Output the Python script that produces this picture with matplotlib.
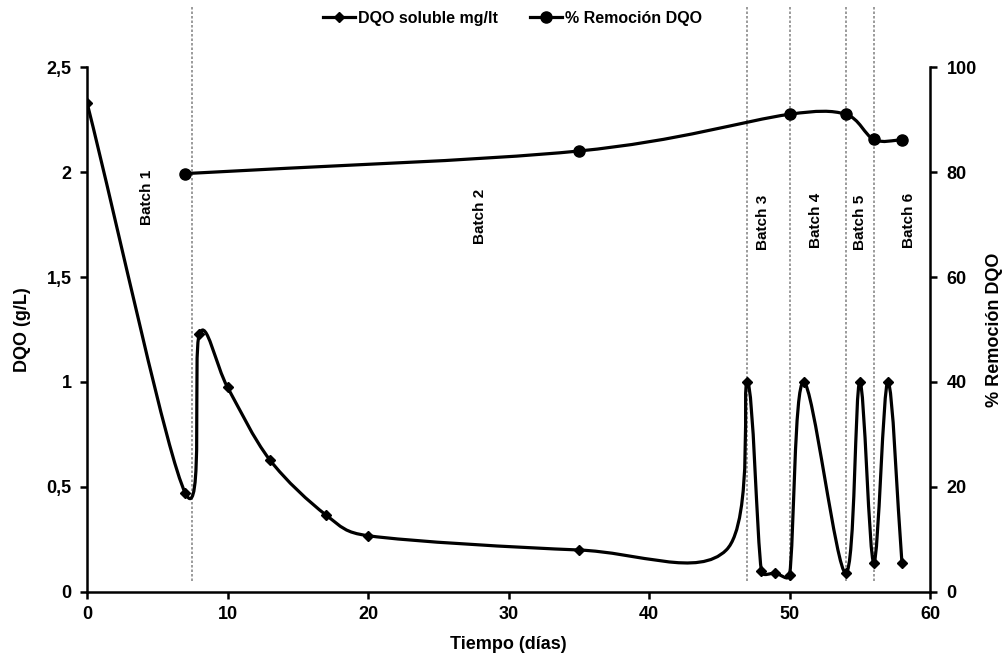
import numpy as np
import matplotlib
matplotlib.use('Agg')
import matplotlib.pyplot as plt
from matplotlib.path import Path
from matplotlib.patches import PathPatch
from matplotlib.lines import Line2D

plt.rcParams['font.family'] = ['Liberation Sans', 'DejaVu Sans']
plt.rcParams['font.weight'] = 'bold'

# ---------------- data ----------------
# DQO soluble (g/L); the value at day 45.5 is the unmarked bend of the line
dias_dqo = [0, 7, 8, 10, 13, 17, 20, 35, 45.5, 47, 48, 49, 50, 51, 54, 55, 56, 57, 58]
dqo_soluble = [2.33, 0.47, 1.23, 0.975, 0.63, 0.367, 0.268, 0.20, 0.20, 1.0, 0.10,
               0.09, 0.08, 1.0, 0.09, 1.0, 0.14, 1.0, 0.14]
dias_sin_marcador = [45.5]

dias_rem = [7, 35, 50, 54, 56, 58]
remocion = [79.7, 84.0, 91.0, 91.0, 86.2, 86.1]

batch_limits = [7.5, 47, 50, 54, 56]
batch_names = ['Batch 1', 'Batch 2', 'Batch 3', 'Batch 4', 'Batch 5', 'Batch 6']
batch_x = [4.3, 28.0, 48.1, 51.9, 55.0, 58.5]
batch_y = [1.88, 1.79, 1.76, 1.77, 1.76, 1.77]

x_ticks = [0, 10, 20, 30, 40, 50, 60]
yl_ticks = [0, 0.5, 1, 1.5, 2, 2.5]
yl_labels = ['0', '0,5', '1', '1,5', '2', '2,5']
yr_ticks = [0, 20, 40, 60, 80, 100]

serie1 = 'DQO soluble mg/lt'
serie2 = '% Remoción DQO'

# ---------------- figure ----------------
fig = plt.figure(figsize=(10.05, 6.59), dpi=100)
ax = fig.add_axes([0.0866, 0.1017, 0.8388, 0.7966])
ax2 = ax.twinx()

ax.set_xlim(0, 60)
ax.set_ylim(0, 2.5)
ax2.set_ylim(0, 100)

for a in (ax, ax2):
    a.spines['top'].set_visible(False)
    for s in ('left', 'right', 'bottom'):
        a.spines[s].set_linewidth(1.8)
    a.patch.set_visible(False)

ax.spines['right'].set_visible(False)
ax2.spines['left'].set_visible(False)
ax2.spines['bottom'].set_visible(False)

ax.set_xticks(x_ticks)
ax.set_xticklabels([str(v) for v in x_ticks])
ax.set_yticks(yl_ticks)
ax.set_yticklabels(yl_labels)
ax2.set_yticks(yr_ticks)
ax2.set_yticklabels([str(v) for v in yr_ticks])

ax.tick_params(axis='x', direction='out', length=5, width=1.8, labelsize=13, pad=5)
ax.tick_params(axis='y', direction='out', length=5, width=1.8, labelsize=13, pad=6)
ax2.tick_params(axis='y', direction='out', length=5, width=1.8, labelsize=13, pad=7)

ax.set_xlabel('Tiempo (días)', fontsize=13, fontweight='bold')
ax.xaxis.set_label_coords(0.5, -0.083)
ax.set_ylabel('DQO (g/L)', fontsize=13, fontweight='bold')
ax.yaxis.set_label_coords(-0.066, 0.5)
ax2.set_ylabel(serie2, fontsize=13, fontweight='bold')
ax2.yaxis.set_label_coords(1.066, 0.5)


def excel_smooth_path(axis, xs, ys):
    pts = axis.transData.transform(np.column_stack([xs, ys]))
    n = len(pts)
    verts = [pts[0]]
    codes = [Path.MOVETO]
    for i in range(n - 1):
        p1, p2 = pts[i], pts[i + 1]
        p0 = pts[i - 1] if i > 0 else p1
        p3 = pts[i + 2] if i + 2 < n else p2
        d12 = np.hypot(*(p2 - p1))
        d02 = np.hypot(*(p2 - p0))
        d13 = np.hypot(*(p3 - p1))
        f1 = 1 / 6 if i > 0 else 1 / 3
        f2 = 1 / 6 if i + 2 < n else 1 / 3
        if d02 > 0 and f1 * d02 > d12 / 2:
            f1 = d12 / (2 * d02)
        if d13 > 0 and f2 * d13 > d12 / 2:
            f2 = d12 / (2 * d13)
        c1 = p1 + f1 * (p2 - p0)
        c2 = p2 - f2 * (p3 - p1)
        verts += [c1, c2, p2]
        codes += [Path.CURVE4] * 3
    verts = axis.transData.inverted().transform(np.array(verts))
    return Path(verts, codes)


# batch dividers
trans = ax.get_xaxis_transform()
for xb in batch_limits:
    ax.plot([xb, xb], [0.021, 1.118], transform=trans, color='#8a8a8a',
            lw=1.2, ls=(0, (1.5, 1.2)), clip_on=False, zorder=1)

for name, bx, by in zip(batch_names, batch_x, batch_y):
    ax.text(bx, by, name, rotation=90, ha='center', va='center',
            fontsize=11, fontweight='bold', zorder=2)

# series 1
p1 = excel_smooth_path(ax, dias_dqo, dqo_soluble)
ax.add_patch(PathPatch(p1, fill=False, lw=2.3, ec='black', zorder=3,
                       capstyle='round', joinstyle='round'))
marcados = [i for i, d in enumerate(dias_dqo) if d not in dias_sin_marcador]
ax.plot(dias_dqo, dqo_soluble, ls='none', marker='D', ms=5, color='black',
        markevery=marcados, zorder=4)

# series 2
p2 = excel_smooth_path(ax2, dias_rem, remocion)
ax2.add_patch(PathPatch(p2, fill=False, lw=2.3, ec='black', zorder=3,
                        capstyle='round', joinstyle='round'))
ax2.plot(dias_rem, remocion, ls='none', marker='o', ms=8, color='black', zorder=4)

handles = [Line2D([], [], color='black', lw=2.3, marker='D', ms=5),
           Line2D([], [], color='black', lw=2.3, marker='o', ms=8)]
fig.legend(handles, [serie1, serie2], loc='upper center', bbox_to_anchor=(0.51, 1.005),
           ncol=2, frameon=False, handlelength=2.0,
           handletextpad=0.2, columnspacing=2.0, prop={'weight': 'bold', 'size': 11.5})

fig.savefig('out.png', dpi=100)
